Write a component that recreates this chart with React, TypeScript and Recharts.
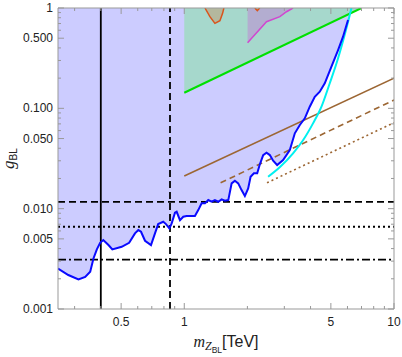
import { ComposedChart, XAxis, YAxis, Area, Line, ReferenceLine } from "recharts";

// plot frame in page pixels (body margin removed below)
const PLOT = { left: 58, right: 394, top: 8, bottom: 309 };
const FRAME = "#999999";
const SANS = "'Liberation Sans', Arial, sans-serif";
const SERIF = "'Liberation Serif', 'Times New Roman', serif";

// ticks
const xMajorTicks = [0.5, 1, 5, 10];
const xMinorTicks = [0.3, 0.4, 0.6, 0.7, 0.8, 0.9, 2, 3, 4, 6, 7, 8, 9];
const yMajorTicks = [0.001, 0.005, 0.01, 0.05, 0.1, 0.5, 1];
const yTickLabels = ["0.001", "0.005", "0.010", "0.050", "0.100", "0.500", "1"];
const yMinorTicks = [
  0.002, 0.003, 0.004, 0.006, 0.007, 0.008, 0.009, 0.02, 0.03, 0.04, 0.06, 0.07,
  0.08, 0.09, 0.2, 0.3, 0.4, 0.6, 0.7, 0.8, 0.9,
];

// blue exclusion curve (region above it is shaded)
const blueCurve = [
  { m: 0.25, g: 0.00253 }, { m: 0.28, g: 0.00218 }, { m: 0.313, g: 0.00197 },
  { m: 0.337, g: 0.00209 }, { m: 0.356, g: 0.00235 }, { m: 0.369, g: 0.00319 },
  { m: 0.383, g: 0.00393 }, { m: 0.397, g: 0.00457 }, { m: 0.411, g: 0.00486 },
  { m: 0.435, g: 0.00434 }, { m: 0.454, g: 0.00393 }, { m: 0.503, g: 0.00417 },
  { m: 0.546, g: 0.00457 }, { m: 0.582, g: 0.00567 }, { m: 0.604, g: 0.00612 },
  { m: 0.622, g: 0.00589 }, { m: 0.65, g: 0.00479 }, { m: 0.694, g: 0.00434 },
  { m: 0.725, g: 0.00567 }, { m: 0.751, g: 0.00702 }, { m: 0.794, g: 0.0074 },
  { m: 0.818, g: 0.00702 }, { m: 0.849, g: 0.00637 }, { m: 0.871, g: 0.00713 },
  { m: 0.903, g: 0.0091 }, { m: 0.92, g: 0.00931 }, { m: 0.954, g: 0.00769 },
  { m: 0.989, g: 0.0083 }, { m: 1.026, g: 0.00844 }, { m: 1.124, g: 0.00844 },
  { m: 1.166, g: 0.00968 }, { m: 1.21, g: 0.0113 }, { m: 1.255, g: 0.0113 },
  { m: 1.301, g: 0.01218 }, { m: 1.35, g: 0.01172 }, { m: 1.4, g: 0.01218 },
  { m: 1.452, g: 0.01172 }, { m: 1.507, g: 0.01239 }, { m: 1.562, g: 0.01199 },
  { m: 1.621, g: 0.01218 }, { m: 1.682, g: 0.01787 }, { m: 1.743, g: 0.01897 },
  { m: 1.808, g: 0.01787 }, { m: 1.876, g: 0.01532 }, { m: 1.945, g: 0.01336 },
  { m: 2.017, g: 0.01593 }, { m: 2.071, g: 0.0208 }, { m: 2.148, g: 0.02249 },
  { m: 2.227, g: 0.02249 }, { m: 2.295, g: 0.02785 }, { m: 2.378, g: 0.03422 },
  { m: 2.467, g: 0.03606 }, { m: 2.558, g: 0.03422 }, { m: 2.653, g: 0.03006 },
  { m: 2.772, g: 0.02721 }, { m: 2.959, g: 0.03055 }, { m: 3.186, g: 0.03838 },
  { m: 3.366, g: 0.05634 }, { m: 3.556, g: 0.0682 }, { m: 3.756, g: 0.07946 },
  { m: 3.966, g: 0.1038 }, { m: 4.19, g: 0.1305 }, { m: 4.426, g: 0.1465 },
  { m: 4.676, g: 0.1775 }, { m: 5.032, g: 0.26 }, { m: 5.412, g: 0.3813 },
  { m: 5.715, g: 0.5176 }, { m: 6.037, g: 0.7591 },
];
const blueFillEnd = { m: 6.3, g: 1 };

const cyanCurve = [
  { m: 2.51, g: 0.0208 }, { m: 2.86, g: 0.026 }, { m: 3.3, g: 0.0356 },
  { m: 3.69, g: 0.0483 }, { m: 4.11, g: 0.0708 }, { m: 4.51, g: 0.104 },
  { m: 4.94, g: 0.178 }, { m: 5.32, g: 0.281 }, { m: 5.73, g: 0.48 },
  { m: 6.07, g: 0.76 }, { m: 6.27, g: 1 },
];

const greenLine = [{ m: 1, g: 0.143 }, { m: 7, g: 1 }];
const brownSolid = [{ m: 1, g: 0.0212 }, { m: 10, g: 0.2 }];
const brownDashed = [{ m: 1.49, g: 0.0181 }, { m: 10, g: 0.121 }];
const brownDotted = [{ m: 2.48, g: 0.0181 }, { m: 10, g: 0.072 }];

// small regions hanging from the top edge
const orangeBlob = [
  { m: 1.255, g: 1 }, { m: 1.325, g: 0.819 }, { m: 1.4, g: 0.703 },
  { m: 1.479, g: 0.747 }, { m: 1.523, g: 0.885 }, { m: 1.545, g: 1 },
];
const orangeBlob2 = [{ m: 2.17, g: 1 }, { m: 2.23, g: 0.94 }, { m: 2.29, g: 1 }];
const magentaCurve = [
  { m: 2.004, g: 0.451 }, { m: 2.467, g: 0.73 }, { m: 2.856, g: 0.819 },
  { m: 3.073, g: 0.918 }, { m: 3.3, g: 1 },
];

const horizontalBounds = [0.0117, 0.0066, 0.0031];
const horizontalDash = ["7 4", "2 3", "8 3 2 3"];
const verticalBounds = [0.4, 0.855];
const verticalDash = [undefined, "7 4"];

const band = (pts: { m: number; g: number }[]) =>
  pts.map((p) => ({ m: p.m, band: [p.g, 1] }));

const blueFill = band([...blueCurve, blueFillEnd]);
const tealFill = band(greenLine);
const magentaFill = [{ m: magentaCurve[0].m, band: [magentaCurve[0].g, 1] }, ...band(magentaCurve)];

const XTick = ({ x, payload }: any) => {
  const major = xMajorTicks.includes(payload.value);
  const len = major ? 6 : 3;
  return (
    <g>
      <line x1={x} x2={x} y1={PLOT.bottom} y2={PLOT.bottom - len} stroke={FRAME} />
      <line x1={x} x2={x} y1={PLOT.top} y2={PLOT.top + len} stroke={FRAME} />
      {major && (
        <text x={x} y={PLOT.bottom + 17} textAnchor="middle" fontFamily={SANS} fontSize={12} fill="#222">
          {payload.value}
        </text>
      )}
    </g>
  );
};

const YTick = ({ y, payload }: any) => {
  const idx = yMajorTicks.indexOf(payload.value);
  const len = idx >= 0 ? 6 : 3;
  return (
    <g>
      <line x1={PLOT.left} x2={PLOT.left + len} y1={y} y2={y} stroke={FRAME} />
      <line x1={PLOT.right} x2={PLOT.right - len} y1={y} y2={y} stroke={FRAME} />
      {idx >= 0 && (
        <text x={PLOT.left - 5} y={y + 4} textAnchor="end" fontFamily={SANS} fontSize={12} fill="#222">
          {yTickLabels[idx]}
        </text>
      )}
    </g>
  );
};

const XTitle = ({ viewBox }: any) => {
  const cx = viewBox.x + viewBox.width / 2;
  const y = viewBox.y + 38;
  return (
    <text x={cx} y={y} textAnchor="middle" fill="#222">
      <tspan fontFamily={SERIF} fontStyle="italic" fontSize={16}>m</tspan>
      <tspan fontFamily={SERIF} fontStyle="italic" fontSize={12} dy={3}>Z</tspan>
      <tspan fontFamily={SANS} fontSize={8.5} dy={3}>BL</tspan>
      <tspan fontFamily={SANS} fontSize={16} dy={-6}>[TeV]</tspan>
    </text>
  );
};

const YTitle = ({ viewBox }: any) => {
  const cy = viewBox.y + viewBox.height / 2;
  const x = 14;
  return (
    <text x={x} y={cy} textAnchor="middle" fill="#222" transform={`rotate(-90, ${x}, ${cy})`}>
      <tspan fontFamily={SERIF} fontStyle="italic" fontSize={17}>g</tspan>
      <tspan fontFamily={SANS} fontSize={10} dy={3}>BL</tspan>
    </text>
  );
};

export default function App() {
  return (
    <div>
      <style>{"body{margin:0}"}</style>
      <ComposedChart width={402} height={357} margin={{ top: 8, right: 8, bottom: 0, left: 0 }}>
        <XAxis
          dataKey="m"
          type="number"
          scale="log"
          domain={[0.25, 10]}
          allowDataOverflow
          ticks={[...xMajorTicks, ...xMinorTicks].sort((a, b) => a - b)}
          interval={0}
          tickLine={false}
          tickSize={0}
          axisLine={{ stroke: FRAME }}
          tick={XTick}
          height={48}
          label={<XTitle />}
        />
        <YAxis
          type="number"
          scale="log"
          domain={[0.001, 1]}
          allowDataOverflow
          ticks={[...yMajorTicks, ...yMinorTicks].sort((a, b) => a - b)}
          interval={0}
          tickLine={false}
          tickSize={0}
          axisLine={{ stroke: FRAME }}
          tick={YTick}
          width={58}
          label={<YTitle />}
        />
        <Area data={blueFill} dataKey="band" type="linear" stroke="none" fill="#ccccff" fillOpacity={1} isAnimationActive={false} />
        <Area data={tealFill} dataKey="band" type="linear" stroke="none" fill="#a6d8cc" fillOpacity={1} isAnimationActive={false} />
        <Area data={band(orangeBlob)} dataKey="band" type="linear" stroke="none" fill="#b4b89e" fillOpacity={1} isAnimationActive={false} />
        <Area data={magentaFill} dataKey="band" type="linear" stroke="none" fill="#b3add0" fillOpacity={1} isAnimationActive={false} />
        <Area data={band(orangeBlob2)} dataKey="band" type="linear" stroke="none" fill="#b4b89e" fillOpacity={1} isAnimationActive={false} />

        {horizontalBounds.map((g, i) => (
          <ReferenceLine key={`h${i}`} y={g} stroke="#000" strokeWidth={1.8} strokeDasharray={horizontalDash[i]} />
        ))}
        {verticalBounds.map((m, i) => (
          <ReferenceLine key={`v${i}`} x={m} stroke="#000" strokeWidth={1.8} strokeDasharray={verticalDash[i]} />
        ))}

        <Line data={orangeBlob} dataKey="g" type="linear" stroke="#d9541c" strokeWidth={1.5} dot={false} isAnimationActive={false} />
        <Line data={orangeBlob2} dataKey="g" type="linear" stroke="#d9541c" strokeWidth={1.5} dot={false} isAnimationActive={false} />
        <Line data={magentaCurve} dataKey="g" type="linear" stroke="#d048d0" strokeWidth={1.5} dot={false} isAnimationActive={false} />
        <Line data={greenLine} dataKey="g" type="linear" stroke="#00e000" strokeWidth={2} dot={false} isAnimationActive={false} />
        <Line data={brownSolid} dataKey="g" type="linear" stroke="#9c6633" strokeWidth={1.6} dot={false} isAnimationActive={false} />
        <Line data={brownDashed} dataKey="g" type="linear" stroke="#9c6633" strokeWidth={1.6} strokeDasharray="6 4" dot={false} isAnimationActive={false} />
        <Line data={brownDotted} dataKey="g" type="linear" stroke="#9c6633" strokeWidth={1.6} strokeDasharray="2 3" dot={false} isAnimationActive={false} />
        <Line data={cyanCurve} dataKey="g" type="monotone" stroke="#00f0f0" strokeWidth={2} dot={false} isAnimationActive={false} />
        <Line data={blueCurve} dataKey="g" type="linear" stroke="#0a0aff" strokeWidth={2} dot={false} isAnimationActive={false} />

        <ReferenceLine y={1} stroke={FRAME} />
        <ReferenceLine x={10} stroke={FRAME} />
      </ComposedChart>
    </div>
  );
}
